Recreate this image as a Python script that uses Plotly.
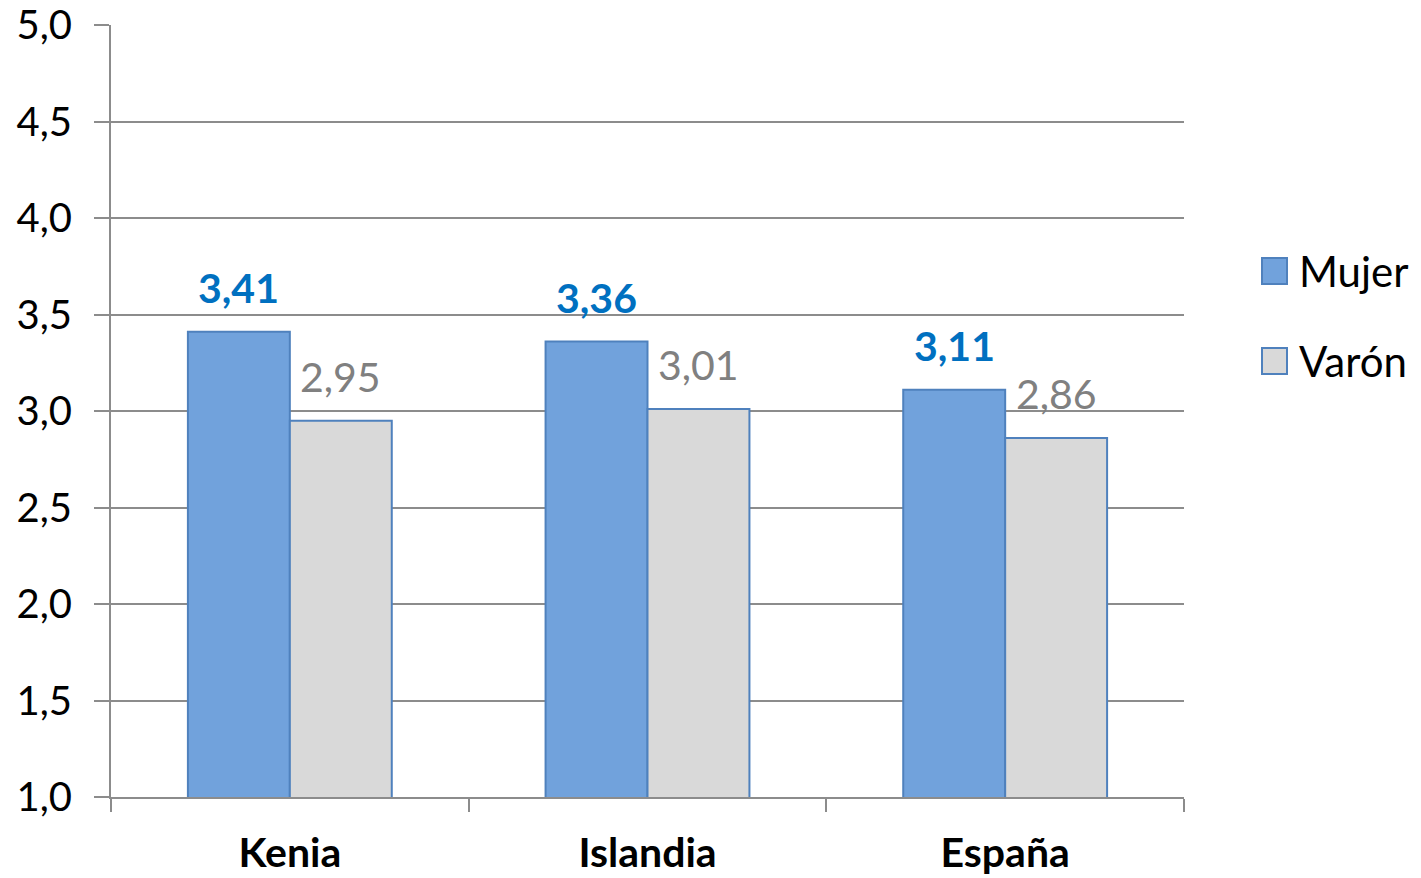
import plotly.graph_objects as go

categories = ["Kenia", "Islandia", "España"]
mujer = [3.41, 3.36, 3.11]
varon = [2.95, 3.01, 2.86]
y_ticks = [1.0, 1.5, 2.0, 2.5, 3.0, 3.5, 4.0, 4.5, 5.0]
series_names = ["Mujer", "Varón"]

FONT = "Lato"
BLUE_FILL = "#71A2DC"
BLUE_LINE = "#4F81BD"
GREY_FILL = "#D9D9D9"
GRID = "#8C8C8C"

fig = go.Figure()
fig.add_trace(go.Bar(x=categories, y=mujer, name=series_names[0], showlegend=False,
                     marker=dict(color=BLUE_FILL, line=dict(color=BLUE_LINE, width=2))))
fig.add_trace(go.Bar(x=categories, y=varon, name=series_names[1], showlegend=False,
                     marker=dict(color=GREY_FILL, line=dict(color=BLUE_LINE, width=2))))

L, R, T, B = 111, 237, 25, 81
plot_w = 1421 - L - R
plot_h = 878 - T - B
bargap = 0.43
bar_px = plot_w / len(categories) * (1 - bargap) / 2

for c, v in zip(categories, mujer):
    fig.add_annotation(x=c, y=v, text=f"{v:.2f}".replace(".", ","), showarrow=False,
                       xshift=-bar_px / 2, yshift=18, yanchor="bottom",
                       font=dict(family=FONT, size=41, color="#0070C0", weight="bold"))
for c, v in zip(categories, varon):
    fig.add_annotation(x=c, y=v, text=f"{v:.2f}".replace(".", ","), showarrow=False,
                       xshift=bar_px / 2, yshift=18, yanchor="bottom",
                       font=dict(family=FONT, size=41, color="#808080"))

# legend drawn in paper coordinates
def px_x(p):
    return (p - L) / plot_w

def px_y(p):
    return (878 - B - p) / plot_h

legend_items = [(series_names[0], BLUE_FILL, 271), (series_names[1], GREY_FILL, 361)]
for name, fill, cy in legend_items:
    fig.add_shape(type="rect", xref="paper", yref="paper",
                  x0=px_x(1262), x1=px_x(1287), y0=px_y(cy - 13), y1=px_y(cy + 13),
                  fillcolor=fill, line=dict(color=BLUE_LINE, width=2))
    fig.add_annotation(xref="paper", yref="paper", x=px_x(1297), y=px_y(cy),
                       xanchor="left", yanchor="middle", showarrow=False, text=name,
                       font=dict(family=FONT, size=42, color="black"))

fig.update_layout(
    width=1421, height=878,
    margin=dict(l=L, r=R, t=T, b=B),
    paper_bgcolor="white", plot_bgcolor="white",
    separators=",.",
    barmode="group", bargap=bargap, bargroupgap=0,
    font=dict(family=FONT, size=38, color="black"),
    showlegend=False,
    xaxis=dict(type="category", showline=True, linecolor=GRID, linewidth=2,
               ticks="outside", tickson="boundaries", ticklen=13, tickwidth=2, tickcolor=GRID,
               tickfont=dict(family=FONT, size=41, color="black", weight="bold"),
               ticklabelstandoff=19, showgrid=False, automargin=False),
    yaxis=dict(range=[1, 5], tickvals=y_ticks, tickformat=".1f",
               showline=True, linecolor=GRID, linewidth=2,
               ticks="outside", ticklen=15, tickwidth=2, tickcolor=GRID,
               showgrid=True, gridcolor=GRID, gridwidth=2, zeroline=False,
               tickfont=dict(family=FONT, size=40, color="black"),
               ticklabelstandoff=14, automargin=False),
)

fig.write_html("out.html", config={"displayModeBar": False},
               post_script="document.body.style.margin='0';")
